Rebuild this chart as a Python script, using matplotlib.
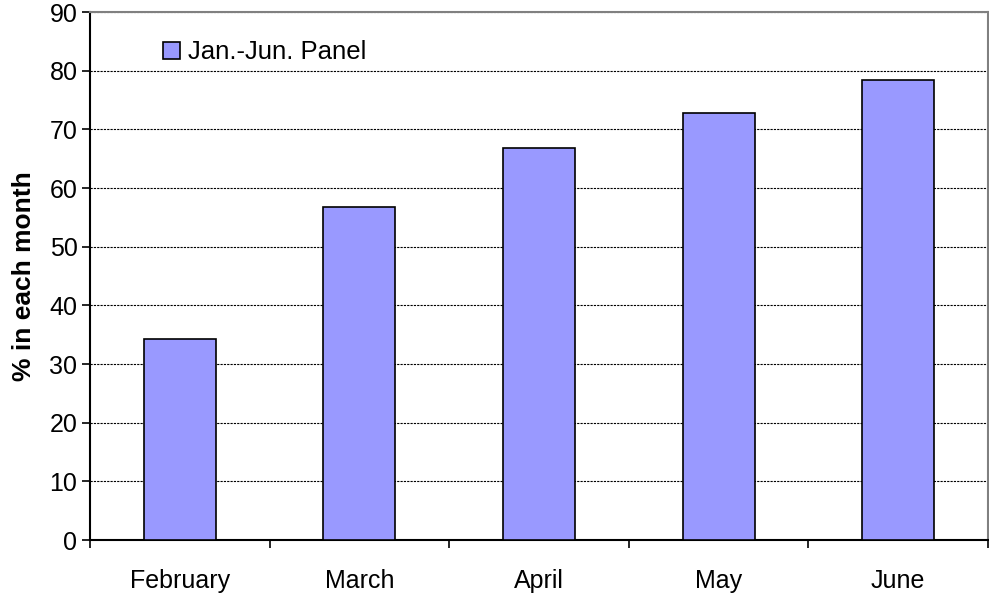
import matplotlib
matplotlib.use("Agg")
import matplotlib.pyplot as plt
import numpy as np

months = ["February", "March", "April", "May", "June"]
values = [34.3, 56.8, 66.8, 72.8, 78.4]
series_name = "Jan.-Jun. Panel"

plt.rcParams["font.family"] = ["Liberation Sans", "DejaVu Sans"]

fig = plt.figure(figsize=(9.89, 5.95), dpi=100)
ax = fig.add_axes([0.091, 0.0924, 0.908, 0.8874])

x = np.arange(len(months))
ax.bar(x, values, width=0.4, color="#9999FF", edgecolor="black", linewidth=1.2,
       label=series_name, zorder=3)

ax.set_xlim(-0.5, len(months) - 0.5)
ax.set_ylim(0, 90)
ax.set_yticks(range(0, 91, 10))
ax.set_xticks(x)
ax.set_xticklabels(months)
ax.set_xticks(np.arange(-0.5, len(months)), minor=True)
ax.tick_params(axis="x", which="major", length=0, pad=21, labelsize=18)
ax.tick_params(axis="x", which="minor", length=6, width=1.2, direction="out")
ax.tick_params(axis="y", length=6, width=1.2, direction="out", labelsize=18, pad=3)

ax.yaxis.grid(True, color="black", linestyle=(0, (2, 1)), linewidth=0.8, zorder=0)

for side in ("top", "right"):
    ax.spines[side].set_color("#808080")
    ax.spines[side].set_linewidth(1.5)
for side in ("left", "bottom"):
    ax.spines[side].set_color("black")
    ax.spines[side].set_linewidth(1.5)

ax.set_ylabel("% in each month", fontsize=19, fontweight="bold", labelpad=10)

ax.legend(loc="upper left", bbox_to_anchor=(0.07, 0.966), frameon=False,
          fontsize=18.5, handlelength=0.65, handleheight=0.65, handletextpad=0.3,
          borderaxespad=0)

fig.savefig("out.png", dpi=100)
